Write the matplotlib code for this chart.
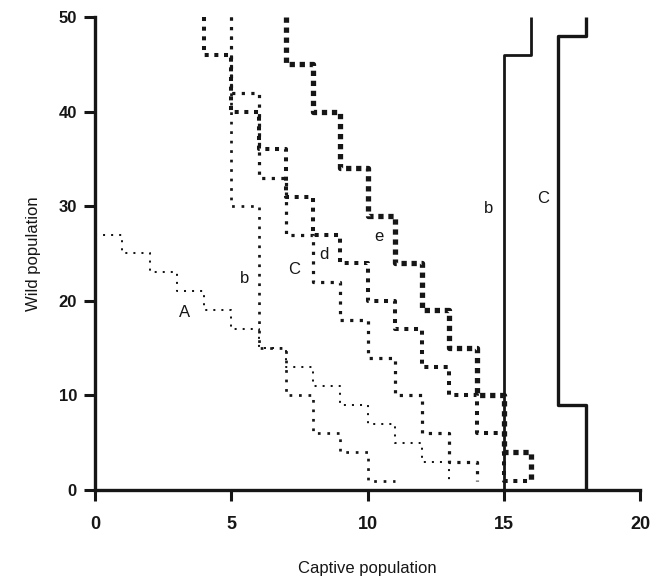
import matplotlib
matplotlib.use("Agg")
import matplotlib.pyplot as plt

plt.rcParams['font.family'] = ['Liberation Sans', 'DejaVu Sans']

# Step curves: captive size where the threshold changes, wild threshold
A_captive = [0, 1, 2, 3, 4, 5, 6, 7, 8, 9, 10, 11, 12, 13]
A_wild = [27, 25, 23, 21, 19, 17, 15, 13, 11, 9, 7, 5, 3, 1]

b_captive = [5, 5, 6, 7, 8, 9, 10, 11]
b_wild = [50, 30, 15, 10, 6, 4, 1, 1]

C_captive = [5, 5, 6, 7, 8, 9, 10, 11, 12, 13, 14]
C_wild = [50, 42, 33, 27, 22, 18, 14, 10, 6, 3, 1]

d_captive = [4, 4, 5, 6, 7, 8, 9, 10, 11, 12, 13, 14, 15, 16]
d_wild = [50, 46, 40, 36, 31, 27, 24, 20, 17, 13, 10, 6, 1, 1]

e_captive = [7, 7, 8, 9, 10, 11, 12, 13, 14, 15, 16]
e_wild = [50, 45, 40, 34, 29, 24, 19, 15, 10, 4, 1]

# solid lines (outline vertices)
b_solid_captive = [15, 15, 16, 16]
b_solid_wild = [0, 46, 46, 50]
C_solid_captive = [18, 18, 17, 17, 18, 18]
C_solid_wild = [0, 9, 9, 48, 48, 50]

labels = ['A', 'b', 'C', 'd', 'e', 'b', 'C']
label_x = [3.3, 5.5, 7.3, 8.4, 10.4, 14.45, 16.45]
label_y = [18.8, 22.4, 23.3, 24.9, 26.8, 29.8, 30.8]

ink = '#161616'

fig = plt.figure(figsize=(6.65, 5.78), dpi=100)
ax = fig.add_axes([95 / 665, 1 - 490 / 578, 545 / 665, 473 / 578])

# dotted step curves, dot size grows from A to e
styles = [
    (A_captive, A_wild, 1.45, 3.0),
    (b_captive, b_wild, 1.95, 2.5),
    (C_captive, C_wild, 2.3, 2.0),
    (d_captive, d_wild, 2.9, 1.4),
    (e_captive, e_wild, 3.8, 0.9),
]
for cx, wy, lw, gap in styles:
    ax.step(cx, wy, where='post', color=ink, lw=lw,
            linestyle=(0, (1, gap)), dash_capstyle='butt', clip_on=False)

ax.plot(b_solid_captive, b_solid_wild, color=ink, lw=2.0,
        solid_capstyle='butt', clip_on=False)
ax.plot(C_solid_captive, C_solid_wild, color=ink, lw=2.4,
        solid_capstyle='butt', clip_on=False)

for t, x, y in zip(labels, label_x, label_y):
    ax.text(x, y, t, fontsize=12, color=ink, ha='center', va='center')

ax.set_xlim(0, 20)
ax.set_ylim(0, 50)
ax.set_xticks([0, 5, 10, 15, 20])
ax.set_yticks([0, 10, 20, 30, 40, 50])

for side in ['top', 'right']:
    ax.spines[side].set_visible(False)
for side in ['left', 'bottom']:
    ax.spines[side].set_linewidth(2.4)
    ax.spines[side].set_color(ink)

ax.tick_params(axis='both', length=8, width=2.2, color=ink, direction='out')
ax.tick_params(axis='x', pad=11, labelsize=13)
ax.tick_params(axis='y', pad=5, labelsize=12)
for lab in ax.get_xticklabels() + ax.get_yticklabels():
    lab.set_fontweight('bold')
    lab.set_color(ink)

ax.set_xlabel('Captive population', fontsize=12, color=ink, labelpad=20)
ax.set_ylabel('Wild population', fontsize=12, color=ink, labelpad=13)

fig.savefig('out.png', dpi=100)
